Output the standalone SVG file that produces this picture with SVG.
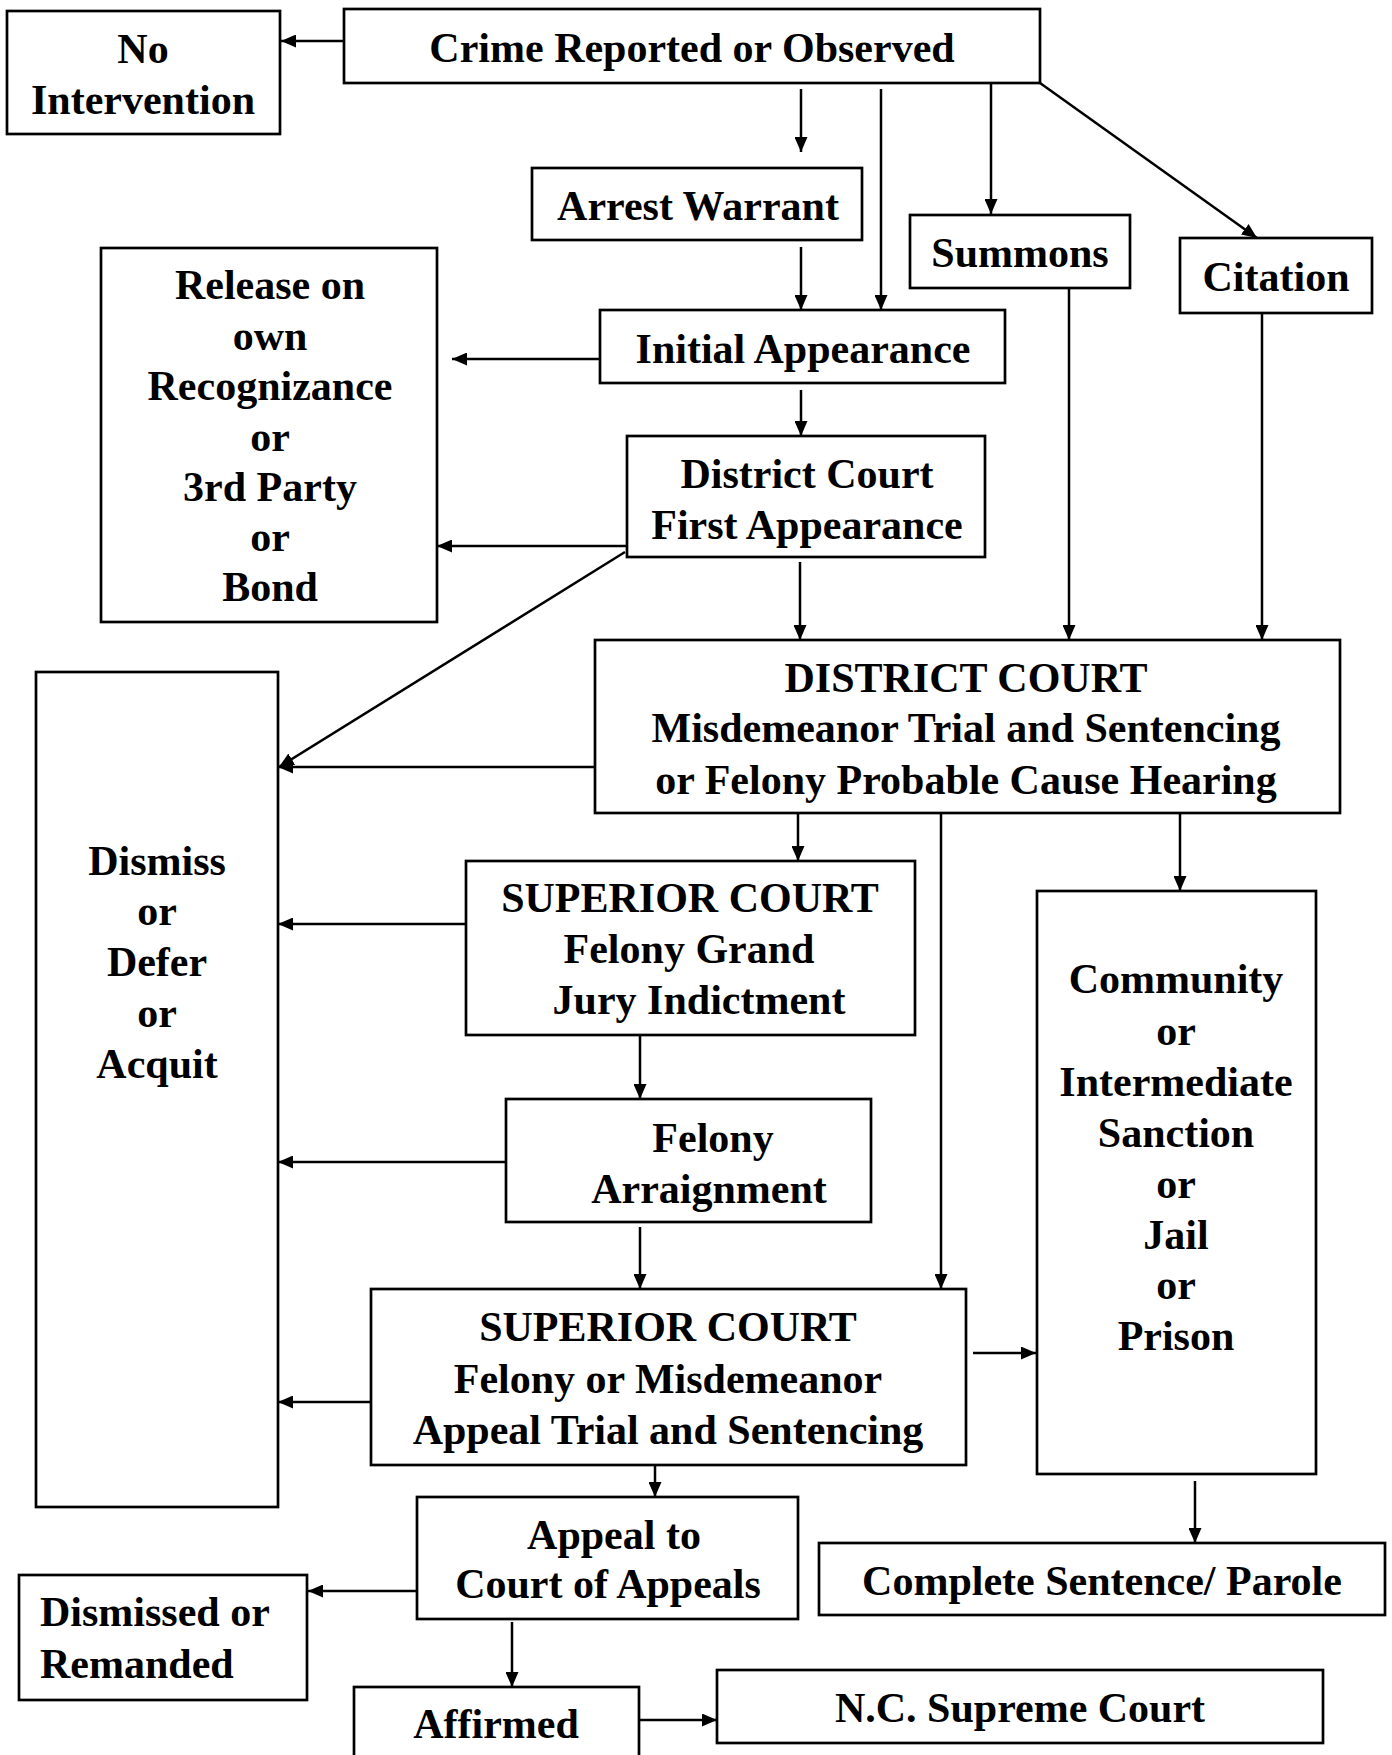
<svg xmlns="http://www.w3.org/2000/svg" width="1392" height="1755" viewBox="0 0 1392 1755">
<style>
rect{fill:#fff;stroke:#000;stroke-width:2.7}
text{font-family:"Liberation Serif","Times New Roman",serif;font-weight:bold;font-size:42px;fill:#000;text-anchor:middle}
.l{text-anchor:start}
#connectors line{stroke:#000;stroke-width:2.5;marker-end:url(#ah)}
</style>
<defs>
<marker id="ah" markerUnits="userSpaceOnUse" markerWidth="15" markerHeight="13" refX="15" refY="6.5" orient="auto">
<path d="M0,0 L15,6.5 L0,13 z" fill="#000"/>
</marker>
</defs>
<rect x="0" y="0" width="1392" height="1755" style="stroke:none"/>
<g id="noint"><rect x="7" y="11" width="273" height="123"/><text x="143" y="63">No</text><text x="143" y="114">Intervention</text></g>
<g id="crime"><rect x="344" y="9" width="696" height="74"/><text x="692" y="62">Crime Reported or Observed</text></g>
<g id="arrest"><rect x="532" y="168" width="330" height="72"/><text x="698" y="220">Arrest Warrant</text></g>
<g id="summons"><rect x="910" y="215" width="220" height="73"/><text x="1020" y="267">Summons</text></g>
<g id="citation"><rect x="1180" y="238" width="192" height="75"/><text x="1276" y="291">Citation</text></g>
<g id="release"><rect x="101" y="248" width="336" height="374"/>
<text x="270" y="299">Release on</text><text x="270" y="350">own</text><text x="270" y="400">Recognizance</text><text x="270" y="451">or</text><text x="270" y="501">3rd Party</text><text x="270" y="551">or</text><text x="270" y="601">Bond</text></g>
<g id="initial"><rect x="600" y="310" width="405" height="73"/><text x="803" y="363">Initial Appearance</text></g>
<g id="dfirst"><rect x="627" y="436" width="358" height="121"/><text x="807" y="488">District Court</text><text x="807" y="539">First Appearance</text></g>
<g id="dcourt"><rect x="595" y="640" width="745" height="173"/><text x="966" y="692">DISTRICT COURT</text><text x="966" y="742">Misdemeanor Trial and Sentencing</text><text x="966" y="794">or Felony Probable Cause Hearing</text></g>
<g id="dismiss"><rect x="36" y="672" width="242" height="835"/>
<text x="157" y="875">Dismiss</text><text x="157" y="925">or</text><text x="157" y="976">Defer</text><text x="157" y="1027">or</text><text x="157" y="1078">Acquit</text></g>
<g id="scgrand"><rect x="466" y="861" width="449" height="174"/><text x="690" y="912">SUPERIOR COURT</text><text x="689" y="963">Felony Grand</text><text x="699" y="1014">Jury Indictment</text></g>
<g id="arraign"><rect x="506" y="1099" width="365" height="123"/><text x="713" y="1152">Felony</text><text x="709" y="1203">Arraignment</text></g>
<g id="community"><rect x="1037" y="891" width="279" height="583"/>
<text x="1176" y="993">Community</text><text x="1176" y="1045">or</text><text x="1176" y="1096">Intermediate</text><text x="1176" y="1147">Sanction</text><text x="1176" y="1198">or</text><text x="1176" y="1249">Jail</text><text x="1176" y="1299">or</text><text x="1176" y="1350">Prison</text></g>
<g id="sctrial"><rect x="371" y="1289" width="595" height="176"/><text x="668" y="1341">SUPERIOR COURT</text><text x="668" y="1393">Felony or Misdemeanor</text><text x="668" y="1444">Appeal Trial and Sentencing</text></g>
<g id="appeal"><rect x="417" y="1497" width="381" height="122"/><text x="614" y="1549">Appeal to</text><text x="608" y="1598">Court of Appeals</text></g>
<g id="complete"><rect x="819" y="1543" width="566" height="72"/><text x="1102" y="1595">Complete Sentence/ Parole</text></g>
<g id="dismissed"><rect x="19" y="1575" width="288" height="125"/><text class="l" x="40" y="1626">Dismissed or</text><text class="l" x="40" y="1678">Remanded</text></g>
<g id="affirmed"><rect x="354" y="1687" width="285" height="80"/><text x="496" y="1738">Affirmed</text></g>
<g id="ncsupreme"><rect x="717" y="1670" width="606" height="73"/><text x="1020" y="1722">N.C. Supreme Court</text></g>
<g id="connectors">
<line x1="344" y1="41" x2="281" y2="41"/>
<line x1="801" y1="89" x2="801" y2="152"/>
<line x1="881" y1="89" x2="881" y2="310"/>
<line x1="991" y1="83" x2="991" y2="214"/>
<line x1="1040" y1="83" x2="1257" y2="238"/>
<line x1="801" y1="247" x2="801" y2="310"/>
<line x1="600" y1="359" x2="452" y2="359"/>
<line x1="801" y1="390" x2="801" y2="436"/>
<line x1="627" y1="546" x2="437" y2="546"/>
<line x1="625" y1="552" x2="279" y2="767"/>
<line x1="800" y1="562" x2="800" y2="640"/>
<line x1="1069" y1="289" x2="1069" y2="640"/>
<line x1="1262" y1="314" x2="1262" y2="640"/>
<line x1="595" y1="767" x2="278" y2="767"/>
<line x1="798" y1="813" x2="798" y2="861"/>
<line x1="941" y1="813" x2="941" y2="1289"/>
<line x1="1180" y1="813" x2="1180" y2="891"/>
<line x1="466" y1="924" x2="278" y2="924"/>
<line x1="640" y1="1035" x2="640" y2="1099"/>
<line x1="506" y1="1162" x2="278" y2="1162"/>
<line x1="640" y1="1227" x2="640" y2="1289"/>
<line x1="371" y1="1402" x2="278" y2="1402"/>
<line x1="973" y1="1353" x2="1036" y2="1353"/>
<line x1="655" y1="1465" x2="655" y2="1497"/>
<line x1="1195" y1="1481" x2="1195" y2="1543"/>
<line x1="417" y1="1591" x2="308" y2="1591"/>
<line x1="512" y1="1622" x2="512" y2="1687"/>
<line x1="639" y1="1720" x2="717" y2="1720"/>
</g>
</svg>
